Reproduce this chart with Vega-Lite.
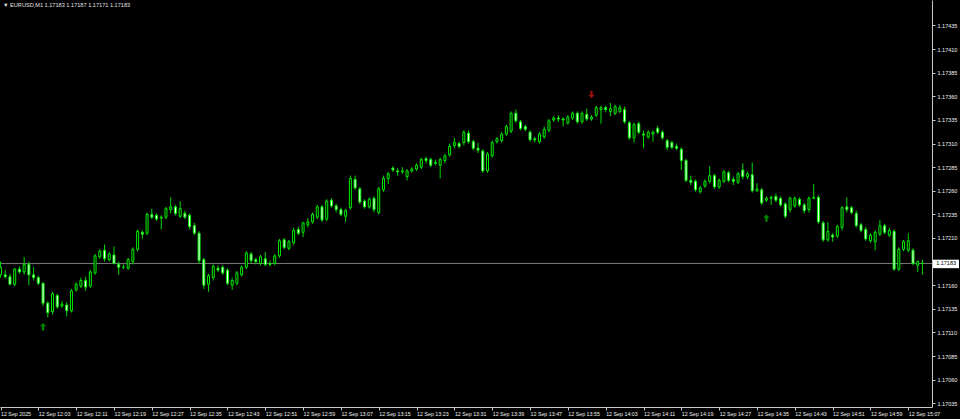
{
  "$schema": "https://vega.github.io/schema/vega-lite/v6.json",
  "width": 932,
  "height": 407,
  "autosize": {"type": "none"},
  "padding": {"left": 0, "top": 0, "right": 28, "bottom": 12},
  "background": "#000000",
  "config": {"view": {"stroke": null}, "axis": {"labelOverlap": false, "labelFlush": false, "grid": false, "title": null}},
  "title": {"text": "▼ EURUSD,M1  1.17183 1.17187 1.17171 1.17183", "anchor": "start", "frame": "group", "offset": -9, "dx": 3, "font": "Liberation Sans", "fontSize": 5.6, "fontWeight": "normal", "color": "#e0e0e0"},
  "resolve": {"axis": {"x": "independent", "y": "independent"}},
  "datasets": {
    "bars": [
      {"t":"2025-09-12T11:55Z","o":1.17171,"h":1.17185,"l":1.17168,"c":1.17179},
      {"t":"2025-09-12T11:56Z","o":1.17171,"h":1.17176,"l":1.17167,"c":1.17169},
      {"t":"2025-09-12T11:57Z","o":1.17169,"h":1.17172,"l":1.17160,"c":1.17161},
      {"t":"2025-09-12T11:58Z","o":1.17161,"h":1.17178,"l":1.17159,"c":1.17177},
      {"t":"2025-09-12T11:59Z","o":1.17177,"h":1.17180,"l":1.17172,"c":1.17174},
      {"t":"2025-09-12T12:00Z","o":1.17174,"h":1.17190,"l":1.17171,"c":1.17182},
      {"t":"2025-09-12T12:01Z","o":1.17182,"h":1.17185,"l":1.17160,"c":1.17171},
      {"t":"2025-09-12T12:02Z","o":1.17171,"h":1.17179,"l":1.17165,"c":1.17168},
      {"t":"2025-09-12T12:03Z","o":1.17168,"h":1.17170,"l":1.17160,"c":1.17162},
      {"t":"2025-09-12T12:04Z","o":1.17162,"h":1.17163,"l":1.17138,"c":1.17141},
      {"t":"2025-09-12T12:05Z","o":1.17141,"h":1.17143,"l":1.17126,"c":1.17131},
      {"t":"2025-09-12T12:06Z","o":1.17132,"h":1.17153,"l":1.17129,"c":1.17151},
      {"t":"2025-09-12T12:07Z","o":1.17149,"h":1.17151,"l":1.17135,"c":1.17137},
      {"t":"2025-09-12T12:08Z","o":1.17138,"h":1.17143,"l":1.17136,"c":1.17140},
      {"t":"2025-09-12T12:09Z","o":1.17139,"h":1.17142,"l":1.17127,"c":1.17133},
      {"t":"2025-09-12T12:10Z","o":1.17133,"h":1.17156,"l":1.17131,"c":1.17154},
      {"t":"2025-09-12T12:11Z","o":1.17155,"h":1.17163,"l":1.17153,"c":1.17161},
      {"t":"2025-09-12T12:12Z","o":1.17159,"h":1.17168,"l":1.17157,"c":1.17165},
      {"t":"2025-09-12T12:13Z","o":1.17165,"h":1.17169,"l":1.17154,"c":1.17158},
      {"t":"2025-09-12T12:14Z","o":1.17159,"h":1.17176,"l":1.17157,"c":1.17174},
      {"t":"2025-09-12T12:15Z","o":1.17173,"h":1.17193,"l":1.17171,"c":1.17191},
      {"t":"2025-09-12T12:16Z","o":1.17190,"h":1.17198,"l":1.17188,"c":1.17196},
      {"t":"2025-09-12T12:17Z","o":1.17197,"h":1.17203,"l":1.17185,"c":1.17188},
      {"t":"2025-09-12T12:18Z","o":1.17187,"h":1.17195,"l":1.17185,"c":1.17193},
      {"t":"2025-09-12T12:19Z","o":1.17192,"h":1.17201,"l":1.17182,"c":1.17183},
      {"t":"2025-09-12T12:20Z","o":1.17182,"h":1.17185,"l":1.17171,"c":1.17179},
      {"t":"2025-09-12T12:21Z","o":1.17179,"h":1.17182,"l":1.17177,"c":1.17179},
      {"t":"2025-09-12T12:22Z","o":1.17178,"h":1.17189,"l":1.17176,"c":1.17187},
      {"t":"2025-09-12T12:23Z","o":1.17185,"h":1.17200,"l":1.17182,"c":1.17198},
      {"t":"2025-09-12T12:24Z","o":1.17198,"h":1.17219,"l":1.17196,"c":1.17217},
      {"t":"2025-09-12T12:25Z","o":1.17216,"h":1.17218,"l":1.17209,"c":1.17214},
      {"t":"2025-09-12T12:26Z","o":1.17215,"h":1.17237,"l":1.17213,"c":1.17235},
      {"t":"2025-09-12T12:27Z","o":1.17235,"h":1.17241,"l":1.17230,"c":1.17232},
      {"t":"2025-09-12T12:28Z","o":1.17234,"h":1.17236,"l":1.17228,"c":1.17230},
      {"t":"2025-09-12T12:29Z","o":1.17231,"h":1.17234,"l":1.17219,"c":1.17232},
      {"t":"2025-09-12T12:30Z","o":1.17232,"h":1.17243,"l":1.17230,"c":1.17241},
      {"t":"2025-09-12T12:31Z","o":1.17240,"h":1.17253,"l":1.17236,"c":1.17243},
      {"t":"2025-09-12T12:32Z","o":1.17243,"h":1.17245,"l":1.17234,"c":1.17236},
      {"t":"2025-09-12T12:33Z","o":1.17233,"h":1.17249,"l":1.17231,"c":1.17241},
      {"t":"2025-09-12T12:34Z","o":1.17236,"h":1.17239,"l":1.17230,"c":1.17232},
      {"t":"2025-09-12T12:35Z","o":1.17234,"h":1.17236,"l":1.17219,"c":1.17222},
      {"t":"2025-09-12T12:36Z","o":1.17223,"h":1.17226,"l":1.17213,"c":1.17215},
      {"t":"2025-09-12T12:37Z","o":1.17215,"h":1.17217,"l":1.17183,"c":1.17186},
      {"t":"2025-09-12T12:38Z","o":1.17187,"h":1.17189,"l":1.17156,"c":1.17160},
      {"t":"2025-09-12T12:39Z","o":1.17161,"h":1.17172,"l":1.17153,"c":1.17170},
      {"t":"2025-09-12T12:40Z","o":1.17168,"h":1.17182,"l":1.17165,"c":1.17180},
      {"t":"2025-09-12T12:41Z","o":1.17178,"h":1.17181,"l":1.17174,"c":1.17176},
      {"t":"2025-09-12T12:42Z","o":1.17179,"h":1.17181,"l":1.17171,"c":1.17173},
      {"t":"2025-09-12T12:43Z","o":1.17176,"h":1.17178,"l":1.17160,"c":1.17162},
      {"t":"2025-09-12T12:44Z","o":1.17160,"h":1.17168,"l":1.17155,"c":1.17165},
      {"t":"2025-09-12T12:45Z","o":1.17162,"h":1.17175,"l":1.17160,"c":1.17173},
      {"t":"2025-09-12T12:46Z","o":1.17171,"h":1.17181,"l":1.17169,"c":1.17179},
      {"t":"2025-09-12T12:47Z","o":1.17179,"h":1.17196,"l":1.17177,"c":1.17194},
      {"t":"2025-09-12T12:48Z","o":1.17193,"h":1.17195,"l":1.17183,"c":1.17186},
      {"t":"2025-09-12T12:49Z","o":1.17187,"h":1.17189,"l":1.17182,"c":1.17185},
      {"t":"2025-09-12T12:50Z","o":1.17183,"h":1.17192,"l":1.17181,"c":1.17190},
      {"t":"2025-09-12T12:51Z","o":1.17188,"h":1.17195,"l":1.17180,"c":1.17182},
      {"t":"2025-09-12T12:52Z","o":1.17183,"h":1.17186,"l":1.17180,"c":1.17182},
      {"t":"2025-09-12T12:53Z","o":1.17183,"h":1.17193,"l":1.17181,"c":1.17191},
      {"t":"2025-09-12T12:54Z","o":1.17191,"h":1.17209,"l":1.17189,"c":1.17207},
      {"t":"2025-09-12T12:55Z","o":1.17208,"h":1.17210,"l":1.17198,"c":1.17200},
      {"t":"2025-09-12T12:56Z","o":1.17199,"h":1.17208,"l":1.17197,"c":1.17206},
      {"t":"2025-09-12T12:57Z","o":1.17205,"h":1.17221,"l":1.17203,"c":1.17218},
      {"t":"2025-09-12T12:58Z","o":1.17219,"h":1.17222,"l":1.17213,"c":1.17215},
      {"t":"2025-09-12T12:59Z","o":1.17216,"h":1.17227,"l":1.17211,"c":1.17226},
      {"t":"2025-09-12T13:00Z","o":1.17224,"h":1.17231,"l":1.17221,"c":1.17227},
      {"t":"2025-09-12T13:01Z","o":1.17227,"h":1.17237,"l":1.17225,"c":1.17235},
      {"t":"2025-09-12T13:02Z","o":1.17232,"h":1.17245,"l":1.17230,"c":1.17243},
      {"t":"2025-09-12T13:03Z","o":1.17243,"h":1.17245,"l":1.17227,"c":1.17229},
      {"t":"2025-09-12T13:04Z","o":1.17230,"h":1.17251,"l":1.17228,"c":1.17249},
      {"t":"2025-09-12T13:05Z","o":1.17250,"h":1.17252,"l":1.17242,"c":1.17244},
      {"t":"2025-09-12T13:06Z","o":1.17244,"h":1.17246,"l":1.17237,"c":1.17240},
      {"t":"2025-09-12T13:07Z","o":1.17240,"h":1.17242,"l":1.17233,"c":1.17235},
      {"t":"2025-09-12T13:08Z","o":1.17233,"h":1.17241,"l":1.17227,"c":1.17239},
      {"t":"2025-09-12T13:09Z","o":1.17242,"h":1.17276,"l":1.17240,"c":1.17273},
      {"t":"2025-09-12T13:10Z","o":1.17272,"h":1.17276,"l":1.17261,"c":1.17263},
      {"t":"2025-09-12T13:11Z","o":1.17262,"h":1.17264,"l":1.17246,"c":1.17248},
      {"t":"2025-09-12T13:12Z","o":1.17249,"h":1.17251,"l":1.17241,"c":1.17243},
      {"t":"2025-09-12T13:13Z","o":1.17243,"h":1.17253,"l":1.17241,"c":1.17251},
      {"t":"2025-09-12T13:14Z","o":1.17252,"h":1.17254,"l":1.17237,"c":1.17240},
      {"t":"2025-09-12T13:15Z","o":1.17237,"h":1.17264,"l":1.17235,"c":1.17262},
      {"t":"2025-09-12T13:16Z","o":1.17261,"h":1.17276,"l":1.17259,"c":1.17273},
      {"t":"2025-09-12T13:17Z","o":1.17273,"h":1.17280,"l":1.17267,"c":1.17278},
      {"t":"2025-09-12T13:18Z","o":1.17284,"h":1.17286,"l":1.17280,"c":1.17282},
      {"t":"2025-09-12T13:19Z","o":1.17281,"h":1.17284,"l":1.17276,"c":1.17280},
      {"t":"2025-09-12T13:20Z","o":1.17280,"h":1.17285,"l":1.17278,"c":1.17281},
      {"t":"2025-09-12T13:21Z","o":1.17275,"h":1.17283,"l":1.17271,"c":1.17281},
      {"t":"2025-09-12T13:22Z","o":1.17281,"h":1.17285,"l":1.17279,"c":1.17283},
      {"t":"2025-09-12T13:23Z","o":1.17283,"h":1.17289,"l":1.17281,"c":1.17287},
      {"t":"2025-09-12T13:24Z","o":1.17285,"h":1.17295,"l":1.17283,"c":1.17293},
      {"t":"2025-09-12T13:25Z","o":1.17294,"h":1.17296,"l":1.17289,"c":1.17292},
      {"t":"2025-09-12T13:26Z","o":1.17293,"h":1.17295,"l":1.17285,"c":1.17287},
      {"t":"2025-09-12T13:27Z","o":1.17289,"h":1.17293,"l":1.17287,"c":1.17290},
      {"t":"2025-09-12T13:28Z","o":1.17287,"h":1.17295,"l":1.17273,"c":1.17293},
      {"t":"2025-09-12T13:29Z","o":1.17292,"h":1.17299,"l":1.17289,"c":1.17297},
      {"t":"2025-09-12T13:30Z","o":1.17298,"h":1.17310,"l":1.17296,"c":1.17307},
      {"t":"2025-09-12T13:31Z","o":1.17308,"h":1.17316,"l":1.17305,"c":1.17311},
      {"t":"2025-09-12T13:32Z","o":1.17310,"h":1.17312,"l":1.17305,"c":1.17307},
      {"t":"2025-09-12T13:33Z","o":1.17311,"h":1.17324,"l":1.17308,"c":1.17322},
      {"t":"2025-09-12T13:34Z","o":1.17321,"h":1.17324,"l":1.17310,"c":1.17312},
      {"t":"2025-09-12T13:35Z","o":1.17312,"h":1.17314,"l":1.17303,"c":1.17305},
      {"t":"2025-09-12T13:36Z","o":1.17305,"h":1.17311,"l":1.17300,"c":1.17303},
      {"t":"2025-09-12T13:37Z","o":1.17302,"h":1.17304,"l":1.17279,"c":1.17281},
      {"t":"2025-09-12T13:38Z","o":1.17281,"h":1.17301,"l":1.17279,"c":1.17299},
      {"t":"2025-09-12T13:39Z","o":1.17297,"h":1.17313,"l":1.17295,"c":1.17311},
      {"t":"2025-09-12T13:40Z","o":1.17312,"h":1.17317,"l":1.17310,"c":1.17315},
      {"t":"2025-09-12T13:41Z","o":1.17313,"h":1.17322,"l":1.17311,"c":1.17320},
      {"t":"2025-09-12T13:42Z","o":1.17320,"h":1.17330,"l":1.17318,"c":1.17328},
      {"t":"2025-09-12T13:43Z","o":1.17323,"h":1.17344,"l":1.17321,"c":1.17342},
      {"t":"2025-09-12T13:44Z","o":1.17342,"h":1.17346,"l":1.17332,"c":1.17334},
      {"t":"2025-09-12T13:45Z","o":1.17333,"h":1.17335,"l":1.17324,"c":1.17326},
      {"t":"2025-09-12T13:46Z","o":1.17328,"h":1.17330,"l":1.17323,"c":1.17325},
      {"t":"2025-09-12T13:47Z","o":1.17322,"h":1.17324,"l":1.17312,"c":1.17314},
      {"t":"2025-09-12T13:48Z","o":1.17315,"h":1.17317,"l":1.17311,"c":1.17314},
      {"t":"2025-09-12T13:49Z","o":1.17312,"h":1.17322,"l":1.17310,"c":1.17320},
      {"t":"2025-09-12T13:50Z","o":1.17317,"h":1.17328,"l":1.17315,"c":1.17325},
      {"t":"2025-09-12T13:51Z","o":1.17324,"h":1.17336,"l":1.17322,"c":1.17334},
      {"t":"2025-09-12T13:52Z","o":1.17335,"h":1.17339,"l":1.17333,"c":1.17337},
      {"t":"2025-09-12T13:53Z","o":1.17337,"h":1.17340,"l":1.17333,"c":1.17336},
      {"t":"2025-09-12T13:54Z","o":1.17336,"h":1.17338,"l":1.17328,"c":1.17335},
      {"t":"2025-09-12T13:55Z","o":1.17332,"h":1.17340,"l":1.17330,"c":1.17338},
      {"t":"2025-09-12T13:56Z","o":1.17337,"h":1.17344,"l":1.17335,"c":1.17342},
      {"t":"2025-09-12T13:57Z","o":1.17342,"h":1.17344,"l":1.17331,"c":1.17333},
      {"t":"2025-09-12T13:58Z","o":1.17333,"h":1.17344,"l":1.17331,"c":1.17342},
      {"t":"2025-09-12T13:59Z","o":1.17341,"h":1.17347,"l":1.17334,"c":1.17336},
      {"t":"2025-09-12T14:00Z","o":1.17336,"h":1.17340,"l":1.17334,"c":1.17338},
      {"t":"2025-09-12T14:01Z","o":1.17340,"h":1.17350,"l":1.17338,"c":1.17348},
      {"t":"2025-09-12T14:02Z","o":1.17346,"h":1.17350,"l":1.17331,"c":1.17348},
      {"t":"2025-09-12T14:03Z","o":1.17348,"h":1.17350,"l":1.17343,"c":1.17346},
      {"t":"2025-09-12T14:04Z","o":1.17344,"h":1.17353,"l":1.17339,"c":1.17347},
      {"t":"2025-09-12T14:05Z","o":1.17342,"h":1.17351,"l":1.17340,"c":1.17349},
      {"t":"2025-09-12T14:06Z","o":1.17344,"h":1.17351,"l":1.17342,"c":1.17348},
      {"t":"2025-09-12T14:07Z","o":1.17346,"h":1.17349,"l":1.17331,"c":1.17333},
      {"t":"2025-09-12T14:08Z","o":1.17332,"h":1.17334,"l":1.17314,"c":1.17316},
      {"t":"2025-09-12T14:09Z","o":1.17316,"h":1.17332,"l":1.17311,"c":1.17330},
      {"t":"2025-09-12T14:10Z","o":1.17331,"h":1.17333,"l":1.17320,"c":1.17322},
      {"t":"2025-09-12T14:11Z","o":1.17320,"h":1.17324,"l":1.17305,"c":1.17319},
      {"t":"2025-09-12T14:12Z","o":1.17317,"h":1.17324,"l":1.17315,"c":1.17322},
      {"t":"2025-09-12T14:13Z","o":1.17320,"h":1.17324,"l":1.17312,"c":1.17322},
      {"t":"2025-09-12T14:14Z","o":1.17326,"h":1.17329,"l":1.17320,"c":1.17322},
      {"t":"2025-09-12T14:15Z","o":1.17322,"h":1.17324,"l":1.17314,"c":1.17316},
      {"t":"2025-09-12T14:16Z","o":1.17313,"h":1.17315,"l":1.17303,"c":1.17306},
      {"t":"2025-09-12T14:17Z","o":1.17311,"h":1.17313,"l":1.17304,"c":1.17306},
      {"t":"2025-09-12T14:18Z","o":1.17307,"h":1.17310,"l":1.17303,"c":1.17305},
      {"t":"2025-09-12T14:19Z","o":1.17304,"h":1.17306,"l":1.17282,"c":1.17292},
      {"t":"2025-09-12T14:20Z","o":1.17292,"h":1.17294,"l":1.17269,"c":1.17271},
      {"t":"2025-09-12T14:21Z","o":1.17271,"h":1.17276,"l":1.17266,"c":1.17269},
      {"t":"2025-09-12T14:22Z","o":1.17270,"h":1.17272,"l":1.17259,"c":1.17261},
      {"t":"2025-09-12T14:23Z","o":1.17259,"h":1.17265,"l":1.17257,"c":1.17263},
      {"t":"2025-09-12T14:24Z","o":1.17265,"h":1.17272,"l":1.17263,"c":1.17270},
      {"t":"2025-09-12T14:25Z","o":1.17270,"h":1.17286,"l":1.17268,"c":1.17276},
      {"t":"2025-09-12T14:26Z","o":1.17276,"h":1.17278,"l":1.17262,"c":1.17264},
      {"t":"2025-09-12T14:27Z","o":1.17264,"h":1.17273,"l":1.17262,"c":1.17271},
      {"t":"2025-09-12T14:28Z","o":1.17270,"h":1.17282,"l":1.17268,"c":1.17280},
      {"t":"2025-09-12T14:29Z","o":1.17279,"h":1.17281,"l":1.17269,"c":1.17271},
      {"t":"2025-09-12T14:30Z","o":1.17272,"h":1.17275,"l":1.17266,"c":1.17270},
      {"t":"2025-09-12T14:31Z","o":1.17269,"h":1.17280,"l":1.17267,"c":1.17278},
      {"t":"2025-09-12T14:32Z","o":1.17282,"h":1.17289,"l":1.17272,"c":1.17275},
      {"t":"2025-09-12T14:33Z","o":1.17275,"h":1.17280,"l":1.17272,"c":1.17278},
      {"t":"2025-09-12T14:34Z","o":1.17277,"h":1.17290,"l":1.17258,"c":1.17260},
      {"t":"2025-09-12T14:35Z","o":1.17260,"h":1.17268,"l":1.17259,"c":1.17262},
      {"t":"2025-09-12T14:36Z","o":1.17261,"h":1.17263,"l":1.17245,"c":1.17247},
      {"t":"2025-09-12T14:37Z","o":1.17250,"h":1.17254,"l":1.17248,"c":1.17252},
      {"t":"2025-09-12T14:38Z","o":1.17252,"h":1.17255,"l":1.17245,"c":1.17253},
      {"t":"2025-09-12T14:39Z","o":1.17254,"h":1.17257,"l":1.17248,"c":1.17250},
      {"t":"2025-09-12T14:40Z","o":1.17252,"h":1.17254,"l":1.17243,"c":1.17245},
      {"t":"2025-09-12T14:41Z","o":1.17246,"h":1.17248,"l":1.17231,"c":1.17233},
      {"t":"2025-09-12T14:42Z","o":1.17240,"h":1.17254,"l":1.17237,"c":1.17252},
      {"t":"2025-09-12T14:43Z","o":1.17244,"h":1.17254,"l":1.17242,"c":1.17252},
      {"t":"2025-09-12T14:44Z","o":1.17251,"h":1.17253,"l":1.17243,"c":1.17245},
      {"t":"2025-09-12T14:45Z","o":1.17245,"h":1.17247,"l":1.17236,"c":1.17239},
      {"t":"2025-09-12T14:46Z","o":1.17240,"h":1.17254,"l":1.17237,"c":1.17252},
      {"t":"2025-09-12T14:47Z","o":1.17252,"h":1.17267,"l":1.17251,"c":1.17253},
      {"t":"2025-09-12T14:48Z","o":1.17253,"h":1.17255,"l":1.17225,"c":1.17227},
      {"t":"2025-09-12T14:49Z","o":1.17226,"h":1.17228,"l":1.17206,"c":1.17208},
      {"t":"2025-09-12T14:50Z","o":1.17208,"h":1.17227,"l":1.17206,"c":1.17217},
      {"t":"2025-09-12T14:51Z","o":1.17213,"h":1.17215,"l":1.17206,"c":1.17211},
      {"t":"2025-09-12T14:52Z","o":1.17212,"h":1.17224,"l":1.17210,"c":1.17222},
      {"t":"2025-09-12T14:53Z","o":1.17221,"h":1.17244,"l":1.17218,"c":1.17242},
      {"t":"2025-09-12T14:54Z","o":1.17243,"h":1.17253,"l":1.17237,"c":1.17240},
      {"t":"2025-09-12T14:55Z","o":1.17242,"h":1.17244,"l":1.17235,"c":1.17237},
      {"t":"2025-09-12T14:56Z","o":1.17236,"h":1.17239,"l":1.17221,"c":1.17223},
      {"t":"2025-09-12T14:57Z","o":1.17224,"h":1.17226,"l":1.17216,"c":1.17218},
      {"t":"2025-09-12T14:58Z","o":1.17219,"h":1.17222,"l":1.17207,"c":1.17209},
      {"t":"2025-09-12T14:59Z","o":1.17207,"h":1.17215,"l":1.17205,"c":1.17213},
      {"t":"2025-09-12T15:00Z","o":1.17206,"h":1.17218,"l":1.17197,"c":1.17216},
      {"t":"2025-09-12T15:01Z","o":1.17214,"h":1.17229,"l":1.17212,"c":1.17223},
      {"t":"2025-09-12T15:02Z","o":1.17223,"h":1.17225,"l":1.17214,"c":1.17216},
      {"t":"2025-09-12T15:03Z","o":1.17213,"h":1.17221,"l":1.17211,"c":1.17218},
      {"t":"2025-09-12T15:04Z","o":1.17217,"h":1.17219,"l":1.17175,"c":1.17177},
      {"t":"2025-09-12T15:05Z","o":1.17177,"h":1.17200,"l":1.17175,"c":1.17198},
      {"t":"2025-09-12T15:06Z","o":1.17198,"h":1.17208,"l":1.17196,"c":1.17206},
      {"t":"2025-09-12T15:07Z","o":1.17197,"h":1.17215,"l":1.17195,"c":1.17207},
      {"t":"2025-09-12T15:08Z","o":1.17197,"h":1.17199,"l":1.17181,"c":1.17183},
      {"t":"2025-09-12T15:09Z","o":1.17181,"h":1.17186,"l":1.17174,"c":1.17185},
      {"t":"2025-09-12T15:10Z","o":1.17183,"h":1.17187,"l":1.17171,"c":1.17183}
    ],
    "arrows": [
      {"t":"2025-09-12T12:04Z","p":1.17116,"dir":"up"},
      {"t":"2025-09-12T14:00Z","p":1.17362,"dir":"down"},
      {"t":"2025-09-12T14:37Z","p":1.17231,"dir":"up"}
    ],
    "bid": [
      {"p":1.17183,"t0":"2025-09-12T15:12:14Z","t1":"2025-09-12T15:17:44Z","tm":"2025-09-12T15:15:00Z","hi":1.17187,"lo":1.17178,"label":"1.17183"}
    ]
  },
  "layer": [
    {
      "data": {"name": "bid"},
      "mark": {"type": "rule", "color": "#7a7a7a", "strokeWidth": 1},
      "encoding": {
        "y": {"field": "p", "type": "quantitative", "scale": {"domain": [1.17031, 1.17462], "zero": false, "nice": false}, "axis": null}
      }
    },
    {
      "data": {"name": "bars"},
      "mark": {"type": "rule", "color": "#00d800", "strokeWidth": 1},
      "encoding": {
        "x": {"field": "t", "type": "temporal", "scale": {"type": "utc", "domain": [1757678093600, 1757689921200], "padding": 0},
          "axis": {"title": null, "grid": false, "orient": "bottom",
            "values": [1757678100000, 1757678580000, 1757679060000, 1757679540000, 1757680020000, 1757680500000, 1757680980000, 1757681460000, 1757681940000, 1757682420000, 1757682900000, 1757683380000, 1757683860000, 1757684340000, 1757684820000, 1757685300000, 1757685780000, 1757686260000, 1757686740000, 1757687220000, 1757687700000, 1757688180000, 1757688660000, 1757689140000, 1757689620000],
            "labelExpr": "datum.value < 1757678200000 ? '12 Sep 2025' : utcFormat(datum.value, '%d %b %H:%M')",
            "labelAlign": "left", "labelBaseline": "top", "labelPadding": 1, "labelFlush": false, "labelOverlap": false, "labelBound": false,
            "labelFont": "Liberation Sans", "labelFontSize": 5.3, "labelColor": "#f0f0f0",
            "tickSize": 3, "tickColor": "#c8c8c8", "domainColor": "#c8c8c8", "domainWidth": 1}},
        "y": {"field": "l", "type": "quantitative", "scale": {"domain": [1.17031, 1.17462], "zero": false, "nice": false},
          "axis": {"title": null, "grid": false, "orient": "right",
            "values": [1.17035, 1.1706, 1.17085, 1.1711, 1.17135, 1.1716, 1.1721, 1.17235, 1.1726, 1.17285, 1.1731, 1.17335, 1.1736, 1.17385, 1.1741, 1.17435],
            "format": ".5f", "labelPadding": 2, "labelBaseline": "middle", "labelOverlap": false, "labelFlush": false, "labelBound": false,
            "labelFont": "Liberation Sans", "labelFontSize": 5.5, "labelColor": "#f0f0f0",
            "tickSize": 3, "tickColor": "#c8c8c8", "domainColor": "#c8c8c8", "domainWidth": 1}},
        "y2": {"field": "h"}
      }
    },
    {
      "data": {"name": "bars"},
      "mark": {"type": "bar", "width": 2, "stroke": "#00ee00", "strokeWidth": 1},
      "encoding": {
        "x": {"field": "t", "type": "temporal", "scale": {"type": "utc", "domain": [1757678093600, 1757689921200], "padding": 0}, "axis": null},
        "y": {"field": "o", "type": "quantitative", "scale": {"domain": [1.17031, 1.17462], "zero": false, "nice": false}, "axis": null},
        "y2": {"field": "c"},
        "fill": {"condition": {"test": "datum.c > datum.o", "value": "#000000"}, "value": "#ffffff"}
      }
    },
    {
      "data": {"name": "arrows"},
      "mark": {"type": "point", "filled": true, "size": 55, "strokeWidth": 0},
      "encoding": {
        "x": {"field": "t", "type": "temporal", "scale": {"type": "utc", "domain": [1757678093600, 1757689921200], "padding": 0}, "axis": null},
        "y": {"field": "p", "type": "quantitative", "scale": {"domain": [1.17031, 1.17462], "zero": false, "nice": false}, "axis": null},
        "shape": {"field": "dir", "type": "nominal", "legend": null,
          "scale": {"domain": ["up", "down"], "range": ["M0,-1L0.85,-0.1L0.3,-0.1L0.3,1L-0.3,1L-0.3,-0.1L-0.85,-0.1Z", "M0,1L0.85,0.1L0.3,0.1L0.3,-1L-0.3,-1L-0.3,0.1L-0.85,0.1Z"]}},
        "color": {"field": "dir", "type": "nominal", "legend": null, "scale": {"domain": ["up", "down"], "range": ["#00c800", "#e01818"]}}
      }
    },
    {
      "data": {"name": "bid"},
      "mark": {"type": "rect", "color": "#ffffff"},
      "encoding": {
        "x": {"field": "t0", "type": "temporal", "scale": {"type": "utc", "domain": [1757678093600, 1757689921200], "padding": 0}, "axis": null},
        "x2": {"field": "t1"},
        "y": {"field": "hi", "type": "quantitative", "scale": {"domain": [1.17031, 1.17462], "zero": false, "nice": false}, "axis": null},
        "y2": {"field": "lo"}
      }
    },
    {
      "data": {"name": "bid"},
      "mark": {"type": "text", "color": "#000000", "font": "Liberation Sans", "fontSize": 5.5, "align": "center", "baseline": "middle"},
      "encoding": {
        "x": {"field": "tm", "type": "temporal", "scale": {"type": "utc", "domain": [1757678093600, 1757689921200], "padding": 0}, "axis": null},
        "y": {"field": "p", "type": "quantitative", "scale": {"domain": [1.17031, 1.17462], "zero": false, "nice": false}, "axis": null},
        "text": {"field": "label"}
      }
    }
  ]
}
